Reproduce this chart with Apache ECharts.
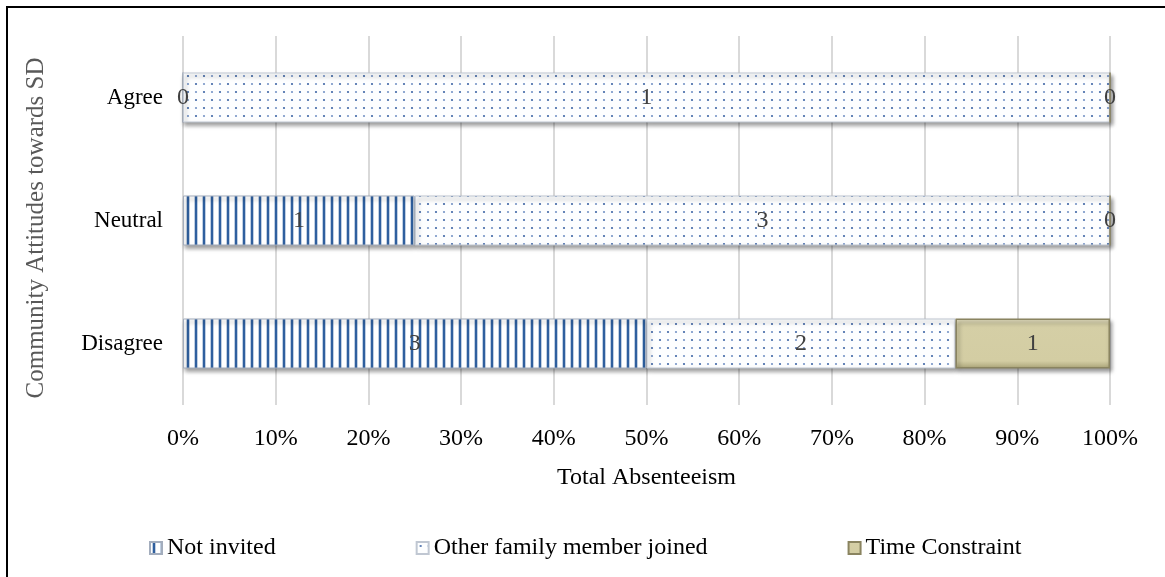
<!DOCTYPE html>
<html>
<head>
<meta charset="utf-8">
<script src="https://cdn.jsdelivr.net/npm/echarts@6/dist/echarts.min.js"></script>
<style>
  html, body { margin: 0; padding: 0; background: #fff; }
  #frame { position: absolute; left: 6px; top: 6px; width: 1170px; height: 580px;
           border-left: 2px solid #000; border-top: 2px solid #000; box-sizing: border-box; }
  #chart { position: absolute; left: 0; top: 0; width: 1165px; height: 577px; }
</style>
</head>
<body>
<div id="frame"></div>
<div id="chart"></div>
<script>
// Responses per attitude group (counts)
const categories = ['Disagree', 'Neutral', 'Agree'];
const notInvited = [3, 1, 0];
const otherFamilyJoined = [2, 3, 1];
const timeConstraint = [1, 0, 0];
const seriesNames = ['Not invited', 'Other family member joined', 'Time Constraint'];
const tickLabels = ['0%', '10%', '20%', '30%', '40%', '50%', '60%', '70%', '80%', '90%', '100%'];
const yTitle = 'Community Attitudes towards SD';
const xTitle = 'Total Absenteeism';

const SERIF = 'Liberation Serif';

// Vertical stripe fill
function stripePattern() {
  const c = document.createElement('canvas');
  c.width = 8; c.height = 8;
  const g = c.getContext('2d');
  g.fillStyle = '#ffffff'; g.fillRect(0, 0, 8, 8);
  g.fillStyle = '#2f5f9e'; g.fillRect(3, 0, 2, 8);
  g.fillStyle = 'rgba(47,95,158,0.3)'; g.fillRect(2, 0, 1, 8); g.fillRect(5, 0, 1, 8);
  return c;
}
// Dotted fill
function dotPattern() {
  const c = document.createElement('canvas');
  c.width = 16; c.height = 16;
  const g = c.getContext('2d');
  g.fillStyle = '#fdfeff'; g.fillRect(0, 0, 16, 16);
  const dots = [[4, 4, '#3f66a6'], [12, 4, '#7694c6'], [4, 12, '#7694c6'], [12, 12, '#3f66a6']];
  dots.forEach(([x, y, col]) => {
    g.fillStyle = col;
    g.beginPath(); g.arc(x, y, 1.1, 0, Math.PI * 2); g.fill();
  });
  return c;
}

const totals = categories.map((_, i) => notInvited[i] + otherFamilyJoined[i] + timeConstraint[i]);
const raw = [notInvited, otherFamilyJoined, timeConstraint];

const fills = [
  { image: stripePattern(), repeat: 'repeat' },
  { image: dotPattern(), repeat: 'repeat' },
  new echarts.graphic.LinearGradient(0, 0, 0, 1, [
    { offset: 0, color: '#e6e1c4' }, { offset: 0.12, color: '#d5cfa6' },
    { offset: 0.85, color: '#d3cda3' }, { offset: 1, color: '#a9a378' }
  ])
];
const borders = ['#a3adbd', '#c0c7d2', '#8a8460'];

const series = raw.map((vals, s) => ({
  name: seriesNames[s],
  type: 'bar',
  stack: 'total',
  barWidth: 50,
  data: vals.map((v, i) => ({ value: v / totals[i] * 100, count: v })),
  itemStyle: {
    color: fills[s],
    borderColor: borders[s],
    borderWidth: s === 2 ? 1.5 : 1,
    shadowColor: 'rgba(0,0,0,0.4)',
    shadowBlur: 4,
    shadowOffsetX: 2,
    shadowOffsetY: 3
  },
  label: {
    show: true,
    position: 'inside',
    fontFamily: SERIF,
    fontSize: 24,
    color: '#404040',
    formatter: p => String(p.data.count)
  }
}));

const chart = echarts.init(document.getElementById('chart'));
chart.setOption({
  animation: false,
  backgroundColor: 'transparent',
  grid: { left: 183, right: 55, top: 36, bottom: 172, containLabel: false },
  xAxis: {
    type: 'value', min: 0, max: 100, interval: 10,
    name: xTitle, nameLocation: 'middle', nameGap: 61,
    nameTextStyle: { fontFamily: SERIF, fontSize: 24, color: '#000' },
    axisLine: { show: false }, axisTick: { show: false },
    axisLabel: {
      margin: 22, fontFamily: SERIF, fontSize: 24, color: '#000',
      formatter: v => tickLabels[Math.round(v / 10)]
    },
    splitLine: { show: true, lineStyle: { color: '#d9d9d9', width: 2 } }
  },
  yAxis: {
    type: 'category', data: categories,
    axisLine: { show: false }, axisTick: { show: false },
    axisLabel: { margin: 20, fontFamily: SERIF, fontSize: 23, color: '#000' }
  },
  graphic: [{
    type: 'text',
    x: 36, y: 228,
    rotation: Math.PI / 2,
    style: {
      text: yTitle, fontFamily: SERIF, fontSize: 25, fill: '#595959',
      align: 'center', verticalAlign: 'middle'
    }
  }],
  legend: {
    left: 144, top: 531, itemGap: 140, itemWidth: 12, itemHeight: 12,
    icon: 'rect',
    textStyle: { fontFamily: SERIF, fontSize: 24, color: '#000' },
    data: seriesNames
  },
  series: series
});
</script>
</body>
</html>
